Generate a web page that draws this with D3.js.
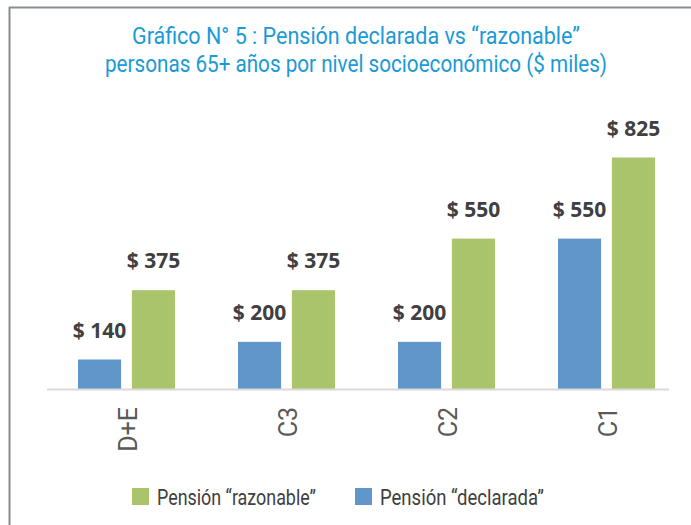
<!DOCTYPE html>
<html>
<head>
<meta charset="utf-8">
<script src="https://cdn.jsdelivr.net/npm/d3@7"></script>
<style>
  html, body { margin: 0; padding: 0; background: #fff; }
  svg { display: block; }
</style>
</head>
<body>
<script>
const categories = ["D+E", "C3", "C2", "C1"];
const seriesNames = ["Pensión “declarada”", "Pensión “razonable”"];
const declarada = [140, 200, 200, 550];
const razonable = [375, 375, 550, 825];
const titleLines = ["Gráfico N° 5 : Pensión declarada vs “razonable”",
                    "personas 65+ años por nivel socioeconómico ($ miles)"];
const colors = ["#6096c9", "#a9c46b"];

const W = 691, H = 525;
const svg = d3.select("body").append("svg").attr("width", W).attr("height", H);

// frame lines
svg.append("line").attr("x1", 9).attr("x2", W).attr("y1", 7.5).attr("y2", 7.5)
  .attr("stroke", "#858e93").attr("stroke-width", 2);
svg.append("line").attr("x1", 9.5).attr("x2", 9.5).attr("y1", 7).attr("y2", H)
  .attr("stroke", "#858e93").attr("stroke-width", 2);

// title
const titleWidths = [448, 502];
svg.append("g").selectAll("text").data(titleLines).join("text")
  .attr("x", 356).attr("y", (d, i) => 44 + i * 28)
  .attr("text-anchor", "middle")
  .attr("font-family", "Roboto, sans-serif")
  .attr("font-size", 23)
  .attr("fill", "#1b9ad6")
  .attr("textLength", (d, i) => titleWidths[i])
  .attr("lengthAdjust", "spacingAndGlyphs")
  .text(d => d);

const x0 = d3.scaleBand().domain(categories).range([46.5, 686.5]);
const x1 = d3.scaleBand().domain([0, 1]).range([31.5, 128.5]).paddingInner(0.2);
const y = d3.scaleLinear().domain([40, 825]).range([389, 157.5]);

const data = categories.map((c, i) => ({ cat: c, vals: [declarada[i], razonable[i]] }));

const groups = svg.append("g").selectAll("g").data(data).join("g")
  .attr("transform", d => `translate(${x0(d.cat)},0)`);

groups.selectAll("rect").data(d => d.vals.map((v, k) => ({ v, k }))).join("rect")
  .attr("x", d => x1(d.k))
  .attr("width", x1.bandwidth())
  .attr("y", d => y(d.v))
  .attr("height", d => y(40) - y(d.v))
  .attr("fill", d => colors[d.k]);

groups.selectAll("text.val").data(d => d.vals.map((v, k) => ({ v, k }))).join("text")
  .attr("class", "val")
  .attr("x", d => x1(d.k) + x1.bandwidth() / 2)
  .attr("y", d => y(d.v) - 22)
  .attr("text-anchor", "middle")
  .attr("font-family", "'Open Sans', sans-serif")
  .attr("font-weight", "bold")
  .attr("font-size", 21)
  .attr("fill", "#404040")
  .text(d => "$ " + d.v);

// axis baseline
svg.append("line").attr("x1", 47).attr("x2", 669).attr("y1", 389.5).attr("y2", 389.5)
  .attr("stroke", "#d9d9d9").attr("stroke-width", 2);

// category labels (rotated)
svg.append("g").selectAll("text").data(categories).join("text")
  .attr("transform", d => `translate(${x0(d) + x0.bandwidth() / 2 + 10},407) rotate(-90)`)
  .attr("text-anchor", "end")
  .attr("font-family", "Roboto, sans-serif")
  .attr("font-size", 25)
  .attr("fill", "#595959")
  .text(d => d);

// legend
const legendItems = [
  { name: seriesNames[1], color: colors[1], x: 132, w: 159 },
  { name: seriesNames[0], color: colors[0], x: 355, w: 164 }
];
const lg = svg.append("g").selectAll("g").data(legendItems).join("g")
  .attr("transform", d => `translate(${d.x},488)`);
lg.append("rect").attr("width", 17).attr("height", 17).attr("fill", d => d.color);
lg.append("text").attr("x", 25).attr("y", 16.5)
  .attr("font-family", "Roboto, sans-serif")
  .attr("font-size", 22)
  .attr("fill", "#404040")
  .attr("textLength", d => d.w)
  .attr("lengthAdjust", "spacingAndGlyphs")
  .text(d => d.name);
</script>
</body>
</html>
